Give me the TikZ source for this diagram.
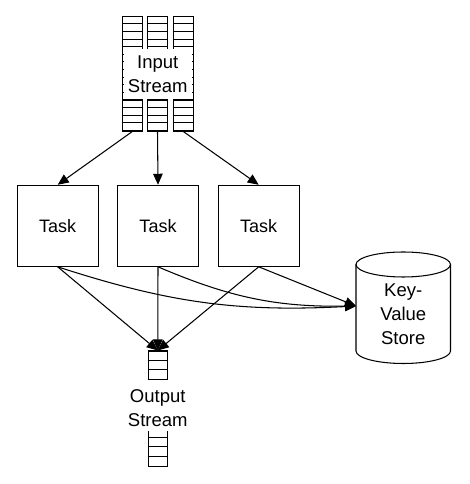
\documentclass[tikz,border=0pt]{standalone}
\usepackage{fontspec}
\setmainfont{Liberation Sans}
\usetikzlibrary{arrows.meta}
\begin{document}
\begin{tikzpicture}[x=1pt,y=1pt,
  every path/.style={line width=1.05pt},
  col/.style={draw, inner sep=0pt, minimum width=19.5pt},
  task/.style={draw, inner sep=0pt, minimum width=81pt, minimum height=81pt, font=\fontsize{18}{23.5}\selectfont},
  lbl/.style={inner sep=0pt, align=center, font=\fontsize{18.5}{24}\selectfont},
  cover/.style={fill=white, inner sep=0pt},
  arr/.style={-{Triangle[length=11pt,width=9.5pt]}, line width=1.05pt}]
\fill[white] (0,0) rectangle (469,484);
\useasboundingbox (0,0) rectangle (469,484);
% input stream columns
\foreach \n/\x in {c1/132.3, c2/157.5, c3/183.3}{
  \node[col, minimum height=114.3pt] (\n) at (\x,410.15) {};
  \foreach \i in {1,...,14}
    \draw ([yshift=-\i*7.62pt]\n.north west) -- ([yshift=-\i*7.62pt]\n.north east);
}
\node[cover, minimum width=67.5pt, minimum height=50pt] (inbg) at (157.75,410.2) {};
\node[lbl] (intext) at (157.75,409.5) {Input\\Stream};
% tasks
\node[task] (t1) at (57.7,258.2) {Task};
\node[task] (t2) at (158,258.2) {Task};
\node[task] (t3) at (258.7,258.2) {Task};
% output stream
\node[col, minimum width=19pt, minimum height=115.7pt] (out) at (157.75,75.15) {};
\foreach \i in {1,...,11}
  \draw ([yshift=-\i*9.64pt]out.north west) -- ([yshift=-\i*9.64pt]out.north east);
\node[cover, minimum width=64pt, minimum height=51pt] (outbg) at (157.75,78) {};
\node[lbl] (outtext) at (157.75,76) {Output\\Stream};
% key-value store
\draw (356,219.5) -- (356,133) arc[start angle=180, end angle=360, x radius=47.25, y radius=12.5] -- (450.5,219.5);
\draw (403.25,219.5) ellipse[x radius=47.25, y radius=12.5];
\node[lbl] (kv) at (403.25,169.5) {Key-\\Value\\Store};
\coordinate (kvin) at (356,178);
% arrows
\draw[arr] (c1.south) -- (t1.north);
\draw[arr] (c2.south) -- (t2.north);
\draw[arr] (c3.south) -- (t3.north);
\draw[arr] (t1.south) -- (out.north);
\draw[arr] (t2.south) -- (out.north);
\draw[arr] (t3.south) -- (out.north);
\draw[arr] (t1.south) to[out=-18, in=183] (kvin);
\draw[arr] (t2.south) to[bend right=12] (kvin);
\draw[arr] (t3.south) -- (kvin);
\end{tikzpicture}
\end{document}
